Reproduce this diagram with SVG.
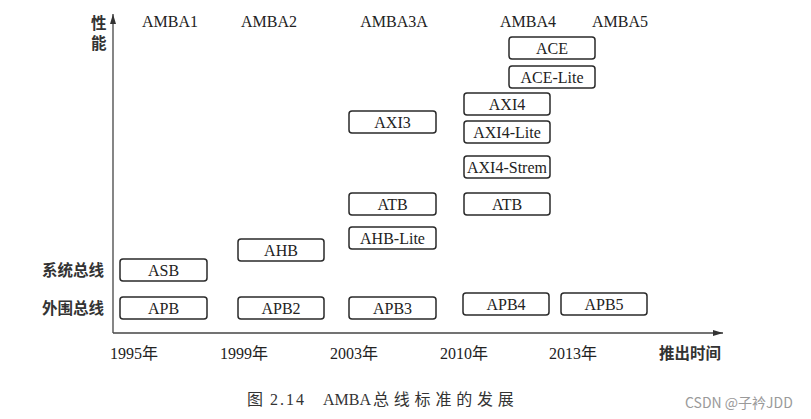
<svg xmlns="http://www.w3.org/2000/svg" width="811" height="419" viewBox="0 0 811 419">
<defs>
<style>
.box{fill:#fff;stroke:#2a2a2a;stroke-width:1.5}
.bt{font-family:"Liberation Serif","Times New Roman",serif;font-size:16px;fill:#222;text-anchor:middle}
.hd{font-family:"Liberation Serif","Times New Roman",serif;font-size:16px;fill:#222;text-anchor:middle}
.cn{font-family:"Noto Sans CJK SC","Noto Sans",sans-serif;font-size:15.5px;font-weight:bold;fill:#333}
.yr{font-family:"Liberation Serif","Noto Sans CJK SC",serif;font-size:16px;fill:#222}
.cap{font-family:"Liberation Serif","Noto Sans CJK SC",serif;font-size:16px;fill:#333}
.wm{font-family:"Noto Sans CJK SC","Liberation Sans",sans-serif;font-size:14px;fill:#9a9a9a}
.ax{stroke:#444;stroke-width:1.3;fill:none}
</style>
<marker id="arr" viewBox="0 0 10 6" refX="10" refY="3" markerWidth="10" markerHeight="6" markerUnits="userSpaceOnUse" orient="auto">
<path d="M0,0 L10,3 L0,6 Z" fill="#333"/>
</marker>
</defs>
<rect width="811" height="419" fill="#fff"/>

<g id="connectors">
<line class="ax" x1="113" y1="333" x2="113" y2="14" marker-end="url(#arr)"/>
<line class="ax" x1="113" y1="333" x2="723" y2="333" marker-end="url(#arr)"/>
</g>

<g id="axis-labels">
<text class="cn" x="91" y="29">性</text>
<text class="cn" x="91" y="49">能</text>
<text class="cn" x="42" y="276">系统总线</text>
<text class="cn" x="42" y="314">外围总线</text>
<text class="cn" x="659" y="359">推出时间</text>
<text class="yr" x="110" y="359">1995年</text>
<text class="yr" x="220" y="359">1999年</text>
<text class="yr" x="330" y="359">2003年</text>
<text class="yr" x="440" y="359">2010年</text>
<text class="yr" x="549" y="359">2013年</text>
<text class="hd" x="170" y="27">AMBA1</text>
<text class="hd" x="269" y="27">AMBA2</text>
<text class="hd" x="394" y="27">AMBA3A</text>
<text class="hd" x="528" y="27">AMBA4</text>
<text class="hd" x="620" y="27">AMBA5</text>
</g>

<g id="ASB"><rect class="box" x="120" y="259" width="87" height="22" rx="3"/><text class="bt" x="163.5" y="275.5">ASB</text></g>
<g id="APB"><rect class="box" x="120" y="297" width="87" height="22" rx="3"/><text class="bt" x="163.5" y="313.5">APB</text></g>
<g id="AHB"><rect class="box" x="238" y="239" width="86" height="22" rx="3"/><text class="bt" x="281" y="255.5">AHB</text></g>
<g id="APB2"><rect class="box" x="238" y="297" width="86" height="22" rx="3"/><text class="bt" x="281" y="313.5">APB2</text></g>
<g id="AXI3"><rect class="box" x="349" y="111" width="87" height="22" rx="3"/><text class="bt" x="392.5" y="127.5">AXI3</text></g>
<g id="ATB-2003"><rect class="box" x="349" y="193" width="87" height="22" rx="3"/><text class="bt" x="392.5" y="209.5">ATB</text></g>
<g id="AHB-Lite"><rect class="box" x="349" y="227" width="87" height="22" rx="3"/><text class="bt" x="392.5" y="243.5">AHB-Lite</text></g>
<g id="APB3"><rect class="box" x="349" y="297" width="87" height="22" rx="3"/><text class="bt" x="392.5" y="313.5">APB3</text></g>
<g id="ACE"><rect class="box" x="509" y="37" width="86" height="22" rx="3"/><text class="bt" x="552" y="53.5">ACE</text></g>
<g id="ACE-Lite"><rect class="box" x="509" y="66" width="86" height="22" rx="3"/><text class="bt" x="552" y="82.5">ACE-Lite</text></g>
<g id="AXI4"><rect class="box" x="464" y="93" width="86" height="22" rx="3"/><text class="bt" x="507" y="109.5">AXI4</text></g>
<g id="AXI4-Lite"><rect class="box" x="464" y="121" width="86" height="22" rx="3"/><text class="bt" x="507" y="137.5">AXI4-Lite</text></g>
<g id="AXI4-Strem"><rect class="box" x="464" y="156" width="86" height="22" rx="3"/><text class="bt" x="507" y="172.5">AXI4-Strem</text></g>
<g id="ATB-2010"><rect class="box" x="464" y="193" width="86" height="22" rx="3"/><text class="bt" x="507" y="209.5">ATB</text></g>
<g id="APB4"><rect class="box" x="463" y="293" width="86" height="22" rx="3"/><text class="bt" x="506" y="309.5">APB4</text></g>
<g id="APB5"><rect class="box" x="561" y="293" width="86" height="22" rx="3"/><text class="bt" x="604" y="309.5">APB5</text></g>

<g id="caption">
<text class="cap" y="405"><tspan x="247">图</tspan><tspan x="270" letter-spacing="2">2.14</tspan><tspan x="323">AMBA</tspan><tspan x="373" letter-spacing="4.8">总线标准的发展</tspan></text>
<text class="wm" x="685" y="408">CSDN @子衿JDD</text>
</g>
</svg>
